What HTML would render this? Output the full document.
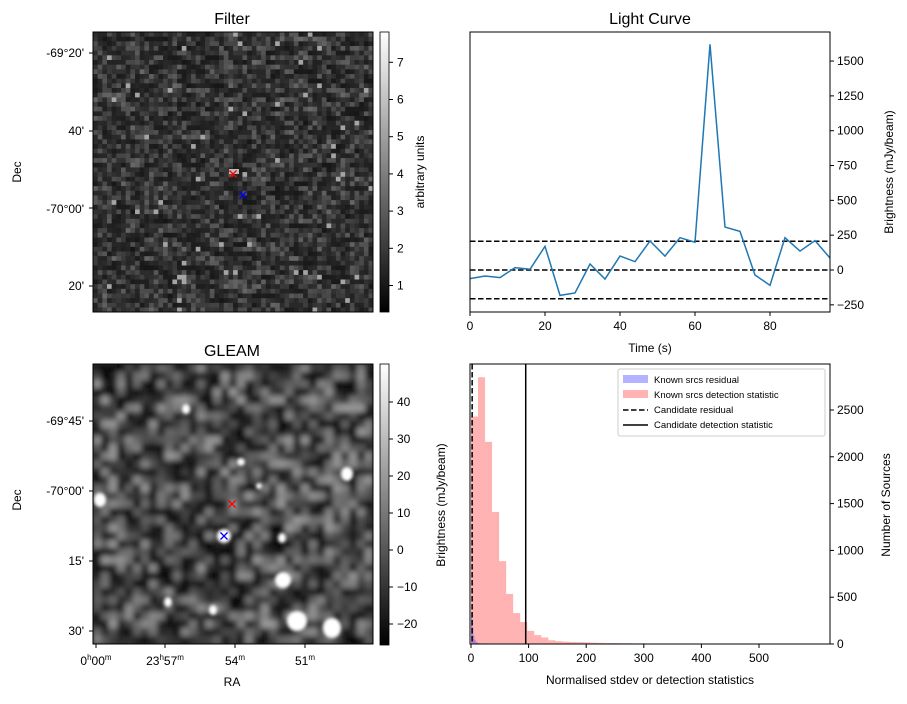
<!DOCTYPE html>
<html><head><meta charset="utf-8"><style>
body{margin:0;background:#fff;}
svg text{font-family:"Liberation Sans","DejaVu Sans",sans-serif;fill:#000;}
</style></head><body>
<svg id="fig" width="907" height="699" viewBox="0 0 907 699" xmlns="http://www.w3.org/2000/svg">
<defs>
<linearGradient id="cbg" x1="0" y1="1" x2="0" y2="0"><stop offset="0" stop-color="#000"/><stop offset="1" stop-color="#fff"/></linearGradient>
<filter id="blur2" x="-5%" y="-5%" width="110%" height="110%"><feGaussianBlur stdDeviation="3"/></filter>
<filter id="blur1"><feGaussianBlur stdDeviation="1.5"/></filter>
<clipPath id="clipF"><rect x="93" y="32" width="280" height="280"/></clipPath>
<clipPath id="clipG"><rect x="93" y="364" width="280" height="280"/></clipPath>
<clipPath id="clipH"><rect x="470" y="364" width="360" height="280"/></clipPath>
</defs>
<!-- Filter panel -->
<text x="232" y="24" font-size="16" text-anchor="middle">Filter</text>
<g id="filterImg" clip-path="url(#clipF)"><rect x="93" y="32" width="280" height="280" fill="#3a3a3a"/></g>
<rect x="93" y="32" width="280" height="280" fill="none" stroke="#000"/>
<path d="M229.5,170.5l7,7M236.5,170.5l-7,7" stroke="red" stroke-width="1.3"/>
<path d="M239.5,191.5l7,7M246.5,191.5l-7,7" stroke="blue" stroke-width="1.3"/>
<g font-size="12" text-anchor="end">
<text x="84" y="57">-69°20'</text><text x="84" y="135">40'</text><text x="84" y="213">-70°00'</text><text x="84" y="290">20'</text>
<line x1="89" y1="53" x2="93" y2="53" stroke="#000"/><line x1="89" y1="131" x2="93" y2="131" stroke="#000"/><line x1="89" y1="208" x2="93" y2="208" stroke="#000"/><line x1="89" y1="286" x2="93" y2="286" stroke="#000"/>
</g>
<text transform="translate(21,172) rotate(-90)" font-size="12" text-anchor="middle">Dec</text>
<rect x="380" y="32" width="9" height="280" fill="url(#cbg)" stroke="#000" stroke-width="0.8"/>
<g id="fcb" font-size="12"></g>
<text transform="translate(424,172) rotate(-90)" font-size="12" text-anchor="middle">arbitrary units</text>

<!-- GLEAM panel -->
<text x="232" y="356" font-size="16" text-anchor="middle">GLEAM</text>
<g clip-path="url(#clipG)">
<rect x="93" y="364" width="280" height="280" fill="#303030"/>
<g id="gleamTex" filter="url(#blur2)"></g>
<g id="gleamSrc" filter="url(#blur1)" fill="#fff"></g>
</g>
<rect x="93" y="364" width="280" height="280" fill="none" stroke="#000"/>
<path d="M228.5,500.5l7,7M235.5,500.5l-7,7" stroke="red" stroke-width="1.3"/>
<path d="M220.5,532.5l7,7M227.5,532.5l-7,7" stroke="blue" stroke-width="1.3"/>
<g font-size="12" text-anchor="end">
<text x="84" y="425">-69°45'</text><text x="84" y="495">-70°00'</text><text x="84" y="565">15'</text><text x="84" y="635">30'</text>
<line x1="89" y1="421" x2="93" y2="421" stroke="#000"/><line x1="89" y1="491" x2="93" y2="491" stroke="#000"/><line x1="89" y1="561" x2="93" y2="561" stroke="#000"/><line x1="89" y1="631" x2="93" y2="631" stroke="#000"/>
</g>
<g font-size="12" text-anchor="middle">
<text x="96" y="665">0<tspan font-size="8" dy="-5">h</tspan><tspan dy="5">00</tspan><tspan font-size="8" dy="-5">m</tspan></text>
<text x="165" y="665">23<tspan font-size="8" dy="-5">h</tspan><tspan dy="5">57</tspan><tspan font-size="8" dy="-5">m</tspan></text>
<text x="235" y="665">54<tspan font-size="8" dy="-5">m</tspan></text>
<text x="305" y="665">51<tspan font-size="8" dy="-5">m</tspan></text>
<line x1="96" y1="644" x2="96" y2="648" stroke="#000"/><line x1="165" y1="644" x2="165" y2="648" stroke="#000"/><line x1="235" y1="644" x2="235" y2="648" stroke="#000"/><line x1="305" y1="644" x2="305" y2="648" stroke="#000"/>
</g>
<text x="232" y="686" font-size="12" text-anchor="middle">RA</text>
<text transform="translate(21,500) rotate(-90)" font-size="12" text-anchor="middle">Dec</text>
<rect x="380" y="364" width="9" height="281" fill="url(#cbg)" stroke="#000" stroke-width="0.8"/>
<g id="gcb" font-size="12"></g>
<text transform="translate(445,505) rotate(-90)" font-size="12" text-anchor="middle">Brightness (mJy/beam)</text>

<!-- Light curve -->
<text x="650" y="24" font-size="16" text-anchor="middle">Light Curve</text>
<g id="lc"></g>
<rect x="470" y="32" width="360" height="280" fill="none" stroke="#000"/>
<text x="650" y="352" font-size="12" text-anchor="middle">Time (s)</text>
<text transform="translate(893,172) rotate(-90)" font-size="12" text-anchor="middle">Brightness (mJy/beam)</text>

<!-- Histogram -->
<g id="hist"></g>
<rect x="470" y="364" width="360" height="280" fill="none" stroke="#000"/>
<text x="650" y="684" font-size="12" text-anchor="middle">Normalised stdev or detection statistics</text>
<text transform="translate(890,505) rotate(-90)" font-size="12" text-anchor="middle">Number of Sources</text>
<g font-size="9.5">
<rect x="618" y="369" width="207" height="67" rx="2" fill="#fff" fill-opacity="0.85" stroke="#ccc"/>
<rect x="623" y="375" width="25" height="8" fill="#b3b3ff"/>
<text x="654" y="383">Known srcs residual</text>
<rect x="623" y="390" width="25" height="8" fill="#ffb3b3"/>
<text x="654" y="398">Known srcs detection statistic</text>
<line x1="623" y1="410" x2="648" y2="410" stroke="#000" stroke-width="1.5" stroke-dasharray="5.5,2.5"/>
<text x="654" y="413">Candidate residual</text>
<line x1="623" y1="425" x2="648" y2="425" stroke="#000" stroke-width="1.5"/>
<text x="654" y="428">Candidate detection statistic</text>
</g>
</svg>
<script>
const NS="http://www.w3.org/2000/svg";
function mk(tag,attrs,parent){const e=document.createElementNS(NS,tag);for(const k in attrs)e.setAttribute(k,attrs[k]);parent.appendChild(e);return e;}
// ---- Light curve data ----
const lcTimes=[0,4,8,12,16,20,24,28,32,36,40,44,48,52,56,60,64,68,72,76,80,84,88,92,96];
const lcFlux=[-62,-43,-55,17,5,170,-182,-165,43,-65,100,60,208,100,232,199,1620,308,277,-36,-110,232,136,211,86];
const lcThresholds=[-206,0,206];
const lcXTicks=[0,20,40,60,80];
const lcYTicks=[-250,0,250,500,750,1000,1250,1500];
// ---- Histogram data ----
const detBinWidth=12.2;
const detCounts=[2430,2850,2160,1410,885,535,330,235,140,95,70,40,30,25,22,20,18,14,12,10,10,9,8,6,6,5,5,5,4,4,4,3,3,3,3,3,2,2,2,2,2,2,1,1,1,1];
const resBinWidth=2;
const resCounts=[340,180,90,45,25,15,10,8,6,5,4,3];
const candidateResidual=2;
const candidateDetection=95;
const histXTicks=[0,100,200,300,400,500];
const histYTicks=[0,500,1000,1500,2000,2500];
// ---- Colorbar ticks ----
const filterCbTicks=[1,2,3,4,5,6,7];
const gleamCbTicks=[-20,-10,0,10,20,30,40];

// Light curve axes
const lx=t=>470+t*3.75, ly=v=>270-v*0.1393;
const lc=document.getElementById('lc');
lcThresholds.forEach(v=>{const l=mk('line',{x1:470,x2:830,y1:ly(v),y2:ly(v),stroke:'#000','stroke-width':1.5,'stroke-dasharray':'5.5,2.5'},lc);

});
const pl=mk('polyline',{points:lcTimes.map((t,i)=>lx(t)+','+ly(lcFlux[i])).join(' '),fill:'none',stroke:'#1f77b4','stroke-width':1.5},lc);


lcXTicks.forEach(t=>{mk('line',{x1:lx(t),x2:lx(t),y1:312,y2:316,stroke:'#000'},lc);const tx=mk('text',{x:lx(t),y:330,'font-size':12,'text-anchor':'middle'},lc);tx.textContent=t;

});
lcYTicks.forEach(v=>{mk('line',{x1:830,x2:834,y1:ly(v),y2:ly(v),stroke:'#000'},lc);const tx=mk('text',{x:837,y:ly(v)+4,'font-size':12},lc);tx.textContent=v<0?'\u2212'+(-v):v;

});

// Histogram axes
const hx=v=>471+v*0.576, hy=c=>644-c*0.0936;
const hg=mk('g',{'clip-path':'url(#clipH)'},document.getElementById('hist'));
detCounts.forEach((c,i)=>{const r=mk('rect',{x:hx(i*detBinWidth),y:hy(c),width:detBinWidth*0.576,height:644-hy(c),fill:'#ff0000','fill-opacity':0.3},hg);

});
resCounts.forEach((c,i)=>{const r=mk('rect',{x:hx(i*resBinWidth),y:hy(c),width:resBinWidth*0.576,height:644-hy(c),fill:'#0000ff','fill-opacity':0.3},hg);

});
const cr=mk('line',{x1:hx(candidateResidual),x2:hx(candidateResidual),y1:364,y2:644,stroke:'#000','stroke-width':1.5,'stroke-dasharray':'5.5,2.5'},hg);


const cd=mk('line',{x1:hx(candidateDetection),x2:hx(candidateDetection),y1:364,y2:644,stroke:'#000','stroke-width':1.5},hg);


const hgt=document.getElementById('hist');
histXTicks.forEach(v=>{mk('line',{x1:hx(v),x2:hx(v),y1:644,y2:648,stroke:'#000'},hgt);const tx=mk('text',{x:hx(v),y:662,'font-size':12,'text-anchor':'middle'},hgt);tx.textContent=v;

});
histYTicks.forEach(v=>{mk('line',{x1:830,x2:834,y1:hy(v),y2:hy(v),stroke:'#000'},hgt);const tx=mk('text',{x:837,y:hy(v)+4,'font-size':12},hgt);tx.textContent=v;

});

// Colorbars
const fcy=v=>285.5-(v-1)*37.2, gcy=v=>624-(v+20)*3.7;
const fcb=document.getElementById('fcb');
filterCbTicks.forEach(v=>{mk('line',{x1:389,x2:393,y1:fcy(v),y2:fcy(v),stroke:'#000'},fcb);const t=mk('text',{x:397,y:fcy(v)+4},fcb);t.textContent=v;});
const gcb=document.getElementById('gcb');
gleamCbTicks.forEach(v=>{mk('line',{x1:389,x2:393,y1:gcy(v),y2:gcy(v),stroke:'#000'},gcb);const t=mk('text',{x:397,y:gcy(v)+4},gcb);t.textContent=v<0?'\u2212'+(-v):v;});

// Image textures (deterministic hash noise, not chart data)
function h(i,j,s){let n=Math.sin(i*127.1+j*311.7+s*74.7)*43758.5453;return n-Math.floor(n);}
const fi=document.getElementById('filterImg');
const cs=4.67;
for(let j=0;j<60;j++)for(let i=0;i<60;i++){
  let v=h(i,j,1);v=v*v*0.75+h(i+1,j,1)*0.2;let g=Math.round(22+v*90);
  if(h(i,j,3)>0.985)g=165;
  mk('rect',{x:(93+i*cs).toFixed(2),y:(32+j*cs).toFixed(2),width:cs+0.3,height:cs+0.3,fill:`rgb(${g},${g},${g})`},fi);
}
mk('rect',{x:229,y:169,width:10,height:5,fill:'#bbb'},fi);
const gt=document.getElementById('gleamTex');
for(let j=0;j<35;j++)for(let i=0;i<35;i++){
  let v=h(i,j,5);let g=Math.round(5+Math.pow(v,1.4)*150);
  mk('rect',{x:93+i*8,y:364+j*8,width:8.3,height:8.3,fill:`rgb(${g},${g},${g})`},gt);
}
const gs=document.getElementById('gleamSrc');
[[186,409,4,5],[241,462,4,4],[347,474,6,7],[100,500,6,7],[224,536,7,7],[282,538,4,5],[283,580,8,8],[168,602,4,5],[213,610,4,5],[297,621,10,10],[332,628,9,10],[259,486,3,3]].forEach(s=>mk('ellipse',{cx:s[0],cy:s[1],rx:s[2],ry:s[3]},gs));
</script>
</body></html>
